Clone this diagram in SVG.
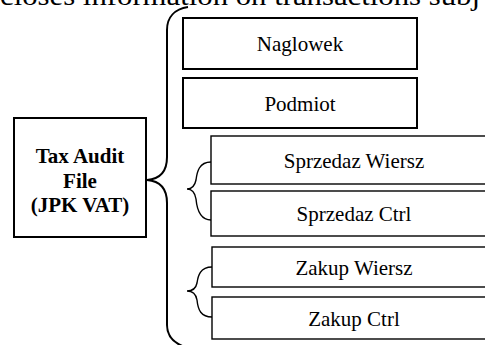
<svg xmlns="http://www.w3.org/2000/svg" width="485" height="345" viewBox="0 0 485 345">
<style>
text{font-family:"Liberation Serif","Times New Roman",serif;fill:#000}
.lbl{font-size:21px;text-anchor:middle}
.bold{font-weight:bold}
.box{fill:#fff;stroke:#000;stroke-width:2}
.box2{fill:#fff;stroke:#000;stroke-width:1.4}
.brace{fill:none;stroke:#000;stroke-width:2}
.brace2{fill:none;stroke:#000;stroke-width:1.4}
</style>
<rect width="485" height="345" fill="#fff"/>
<text x="0" y="5" font-size="28" textLength="480" lengthAdjust="spacingAndGlyphs">closes information on transactions subj</text>
<g id="connectors">
<path class="brace" d="M188,7 C175,9 167,17 167,30 L167,157 C167,171 160,179 147,180 C160,181 167,189 167,203 L167,325 C167,337 174,344 188,348"/>
<path class="brace2" d="M211,162 C199,162 197,172 196,180 C195,185 192,189 187,189 C192,189 195,193 196,199 C197,210 200,220 211,220"/>
<path class="brace2" d="M212,267 C200,267 198,276 197,283 C196,288 193,291 187,291 C193,291 196,294 197,300 C198,310 201,317 212,317"/>
</g>
<g id="tax-audit-file">
<rect class="box" x="14" y="118" width="132" height="119"/>
<text class="lbl bold" x="80" y="163">Tax Audit</text>
<text class="lbl bold" x="80" y="188">File</text>
<text class="lbl bold" x="80" y="212">(JPK VAT)</text>
</g>
<g id="naglowek">
<rect class="box" x="183" y="18" width="234" height="51"/>
<text class="lbl" x="300" y="50.5">Naglowek</text>
</g>
<g id="podmiot">
<rect class="box" x="183" y="78" width="234" height="50"/>
<text class="lbl" x="300" y="110.5">Podmiot</text>
</g>
<g id="sprzedaz-wiersz">
<rect class="box2" x="211" y="136" width="290" height="48"/>
<text class="lbl" x="354" y="167.5">Sprzedaz Wiersz</text>
</g>
<g id="sprzedaz-ctrl">
<rect class="box2" x="211" y="191" width="290" height="45"/>
<text class="lbl" x="354" y="221">Sprzedaz Ctrl</text>
</g>
<g id="zakup-wiersz">
<rect class="box2" x="212" y="247" width="290" height="40"/>
<text class="lbl" x="354" y="275">Zakup Wiersz</text>
</g>
<g id="zakup-ctrl">
<rect class="box2" x="212" y="297" width="290" height="42"/>
<text class="lbl" x="354" y="325.5">Zakup Ctrl</text>
</g>
</svg>
